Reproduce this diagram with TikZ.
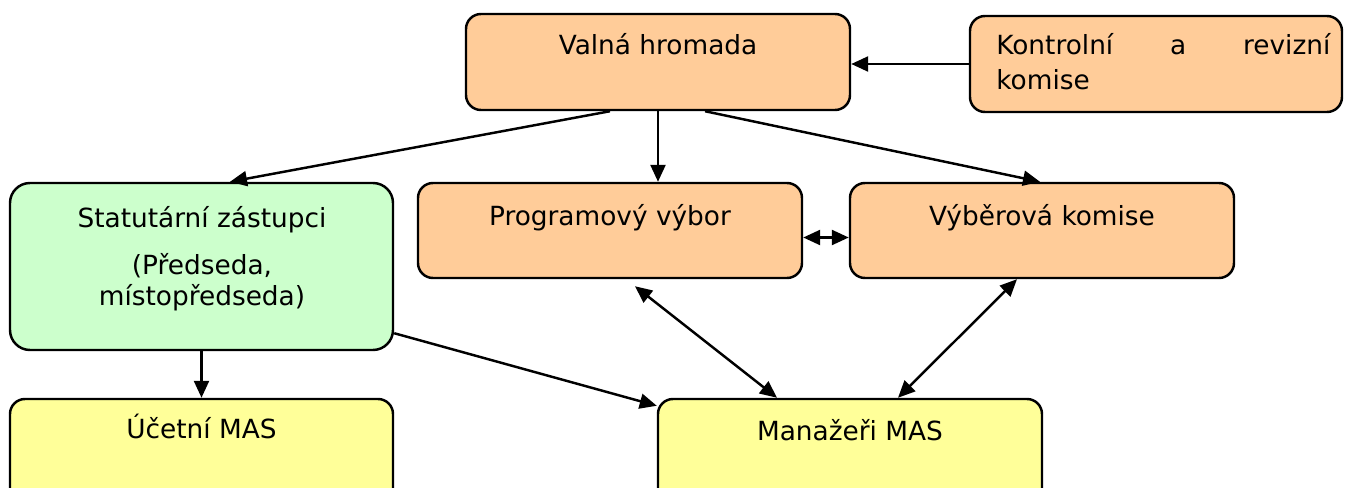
\documentclass[tikz,border=0pt]{standalone}
\usepackage{fontspec}
\setmainfont{DejaVu Sans}
\usetikzlibrary{arrows.meta}
\definecolor{oranz}{HTML}{FFCC99}
\definecolor{zelena}{HTML}{CCFFCC}
\definecolor{zluta}{HTML}{FFFF99}
\begin{document}
\begin{tikzpicture}[box/.style={draw,line width=1.4pt,rounded corners=0.3cm,minimum width=7.68cm,minimum height=1.92cm,inner sep=0pt},
		txt/.style={anchor=base,inner sep=0pt,font=\fontsize{15}{20}\selectfont},
		arr/.style={line width=1.4pt,-{Triangle[length=0.34cm,width=0.3cm]}},
		darr/.style={line width=1.4pt,{Triangle[length=0.34cm,width=0.3cm]}-{Triangle[length=0.34cm,width=0.3cm]}}]
			\useasboundingbox (0,0) rectangle (26.92,-9.76);
			\clip (0,0) rectangle (26.92,-9.76);
			\node[box,fill=oranz] (valna) at (13.16,-1.24) {};
			\node[box,fill=oranz,minimum width=7.44cm] (kontrol) at (23.12,-1.28) {};
			\node[box,fill=zelena,rounded corners=0.4cm,minimum width=7.66cm,minimum height=3.34cm] (statut) at (4.03,-5.33) {};
			\node[box,fill=oranz,minimum height=1.9cm] (prog) at (12.2,-4.61) {};
			\node[box,fill=oranz,minimum height=1.9cm] (vyber) at (20.84,-4.61) {};
			\node[box,fill=zluta,minimum width=7.66cm,minimum height=2.42cm] (ucet) at (4.03,-9.19) {};
			\node[box,fill=zluta,minimum height=2.42cm] (manaz) at (17.0,-9.19) {};
			\node[txt] (valnat) at (13.16,-1.10) {Valná hromada};
			\node[txt,anchor=base west] (kontrolt) at (19.92,-1.10) {\hbox to 6.68cm{Kontrolní\hfill a\hfill revizní}};
			\node[txt,anchor=base west] (kontrolt2) at (19.92,-1.80) {komise};
			\node[txt] (statutt) at (4.04,-4.56) {Statutární zástupci};
			\node[txt] (statutt2) at (4.04,-5.50) {(Předseda,};
			\node[txt] (statutt3) at (4.04,-6.10) {místopředseda)};
			\node[txt] (progt) at (12.2,-4.50) {Programový výbor};
			\node[txt] (vybert) at (20.84,-4.50) {Výběrová komise};
			\node[txt] (ucett) at (4.03,-8.76) {Účetní MAS};
			\node[txt] (manazt) at (17.0,-8.80) {Manažeři MAS};
			\draw[arr] (kontrol.west) -- (kontrol.west -| valna.east);
			\draw[arr] ([xshift=-0.96cm]valna.south) -- ([xshift=0.57cm]statut.north);
			\draw[arr] (valna.south) -- (valna.south |- prog.north);
			\draw[arr] ([xshift=0.94cm]valna.south) -- ([xshift=-0.04cm]vyber.north);
			\draw[darr] ([yshift=-0.14cm]prog.east) -- ([yshift=-0.14cm]vyber.west);
			\draw[darr] ([xshift=0.5cm,yshift=-0.14cm]prog.south) -- ([xshift=-1.46cm]manaz.north);
			\draw[darr] ([xshift=-0.5cm]vyber.south) -- ([xshift=0.96cm]manaz.north);
			\draw[arr] ([yshift=0.36cm]statut.south east) -- ([yshift=-0.16cm]manaz.north west);
			\draw[arr] (statut.south) -- (statut.south |- ucet.north);
		\end{tikzpicture}
\end{document}
